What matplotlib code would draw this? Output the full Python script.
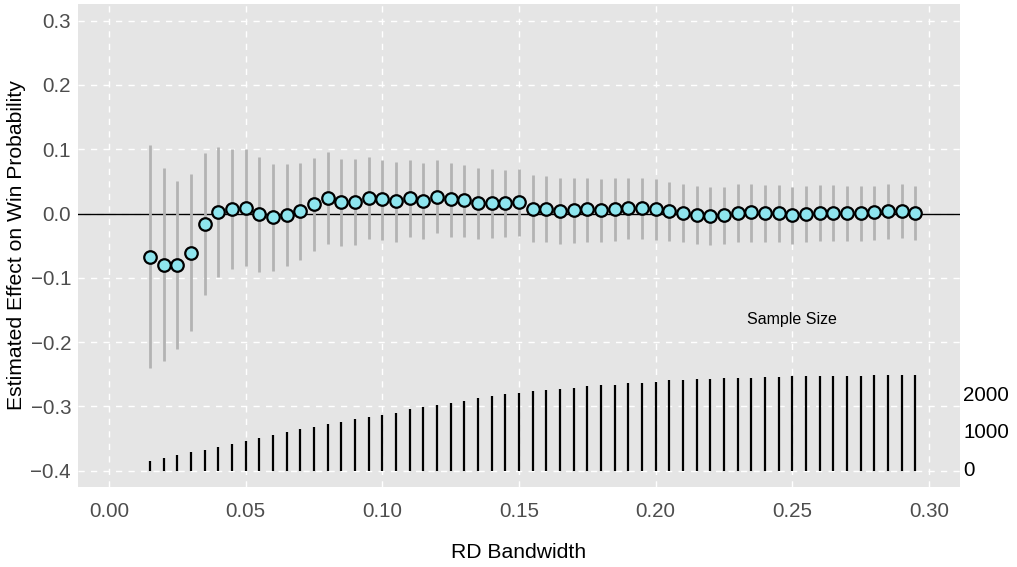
import numpy as np
import matplotlib
matplotlib.use("Agg")
import matplotlib.pyplot as plt

# ---- data ----
bandwidth = [round(0.015 + 0.005 * i, 3) for i in range(57)]

estimate = [-0.067, -0.080, -0.080, -0.061, -0.016, 0.003, 0.007, 0.009, -0.001, -0.006,
            -0.002, 0.004, 0.015, 0.024, 0.018, 0.018, 0.024, 0.022, 0.019, 0.024,
            0.020, 0.026, 0.022, 0.021, 0.017, 0.016, 0.016, 0.018, 0.007, 0.007,
            0.004, 0.006, 0.007, 0.006, 0.007, 0.008, 0.009, 0.007, 0.004, 0.001,
            -0.002, -0.004, -0.002, 0.001, 0.002, 0.001, 0.001, -0.002, -0.001, 0.001,
            0.001, 0.001, 0.001, 0.002, 0.004, 0.004, 0.001]

ci_upper = [0.107, 0.071, 0.050, 0.061, 0.094, 0.103, 0.100, 0.100, 0.088, 0.077,
            0.077, 0.078, 0.087, 0.095, 0.085, 0.085, 0.088, 0.084, 0.080, 0.084,
            0.079, 0.083, 0.079, 0.076, 0.071, 0.069, 0.068, 0.069, 0.060, 0.058,
            0.055, 0.055, 0.055, 0.054, 0.055, 0.055, 0.055, 0.053, 0.049, 0.046,
            0.043, 0.041, 0.042, 0.046, 0.046, 0.044, 0.044, 0.041, 0.043, 0.044,
            0.044, 0.043, 0.043, 0.043, 0.046, 0.046, 0.043]

ci_lower = [-0.241, -0.230, -0.211, -0.183, -0.126, -0.099, -0.087, -0.081, -0.091, -0.089,
            -0.081, -0.072, -0.059, -0.047, -0.051, -0.049, -0.040, -0.041, -0.044, -0.036,
            -0.039, -0.031, -0.036, -0.037, -0.039, -0.038, -0.037, -0.035, -0.045, -0.044,
            -0.048, -0.046, -0.044, -0.044, -0.042, -0.040, -0.039, -0.041, -0.043, -0.045,
            -0.048, -0.049, -0.047, -0.045, -0.044, -0.044, -0.044, -0.047, -0.045, -0.043,
            -0.043, -0.042, -0.042, -0.041, -0.039, -0.038, -0.041]

sample_size = [257, 345, 406, 485, 557, 637, 716, 796, 857, 947,
               1034, 1095, 1167, 1247, 1300, 1371, 1414, 1485, 1538, 1626,
               1690, 1751, 1804, 1857, 1918, 1971, 2024, 2061, 2114, 2130,
               2157, 2202, 2236, 2263, 2281, 2316, 2334, 2361, 2395, 2406,
               2422, 2432, 2448, 2459, 2467, 2475, 2493, 2501, 2512, 2520,
               2520, 2520, 2520, 2528, 2538, 2538, 2538]

size_labels = [0, 1000, 2000]
x_ticks = [0.00, 0.05, 0.10, 0.15, 0.20, 0.25, 0.30]
y_ticks = [-0.4, -0.3, -0.2, -0.1, 0.0, 0.1, 0.2, 0.3]

# ---- styling ----
plt.rcParams['font.family'] = ['Liberation Sans', 'DejaVu Sans']
FS_TICK = 14.8
FS_TITLE = 15.2
size_base = -0.4
size_scale = 5.863e-5   # data units per observation

fig = plt.figure(figsize=(10.17, 5.67), dpi=100)
ax = fig.add_axes([78 / 1017, 1 - 487 / 567, (960 - 78) / 1017, (487 - 4) / 567])
ax.set_facecolor('#E5E5E5')
for s in ax.spines.values():
    s.set_visible(False)

ax.set_xlim(-0.0113, 0.3114)
ax.set_ylim(-0.4255, 0.326)
ax.set_xticks(x_ticks)
ax.set_xticklabels([f"{v:.2f}" for v in x_ticks])
ax.set_yticks(y_ticks)
ax.set_yticklabels([f"{v:.1f}".replace('-', '\u2212') for v in y_ticks])
ax.tick_params(axis='both', length=0, labelsize=FS_TICK, labelcolor='#4D4D4D')
ax.tick_params(axis='x', pad=11)
ax.tick_params(axis='y', pad=5)
ax.grid(True, color='white', linestyle=(0, (4.5, 4.5)), linewidth=1.0)
ax.set_axisbelow(True)

# zero line
ax.axhline(0, color='black', linewidth=1.0, zorder=2)

# confidence intervals
ax.vlines(bandwidth, ci_lower, ci_upper, color='#B3B3B3', linewidth=2.0, zorder=3)

# sample size bars
bw = np.array(bandwidth)
ss = np.array(sample_size)
ax.vlines(bw, size_base, size_base + ss * size_scale, color='black', linewidth=1.6, zorder=3)

# point estimates
ax.plot(bandwidth, estimate, linestyle='none', marker='o', markersize=9,
        markerfacecolor='#8EE5EE', markeredgecolor='black', markeredgewidth=1.6, zorder=4)

# sample size annotations
ax.text(0.25, -0.1655, "Sample Size", ha='center', va='center', fontsize=11.5, color='black')
for n in size_labels:
    ax.text(0.3125, size_base + n * size_scale, str(n), ha='left', va='center',
            fontsize=FS_TICK, color='black', clip_on=False)

ax.set_xlabel("RD Bandwidth", fontsize=FS_TITLE, labelpad=16)
ax.set_ylabel("Estimated Effect on Win Probability", fontsize=FS_TITLE, labelpad=3)

fig.savefig("out.png", dpi=100)
